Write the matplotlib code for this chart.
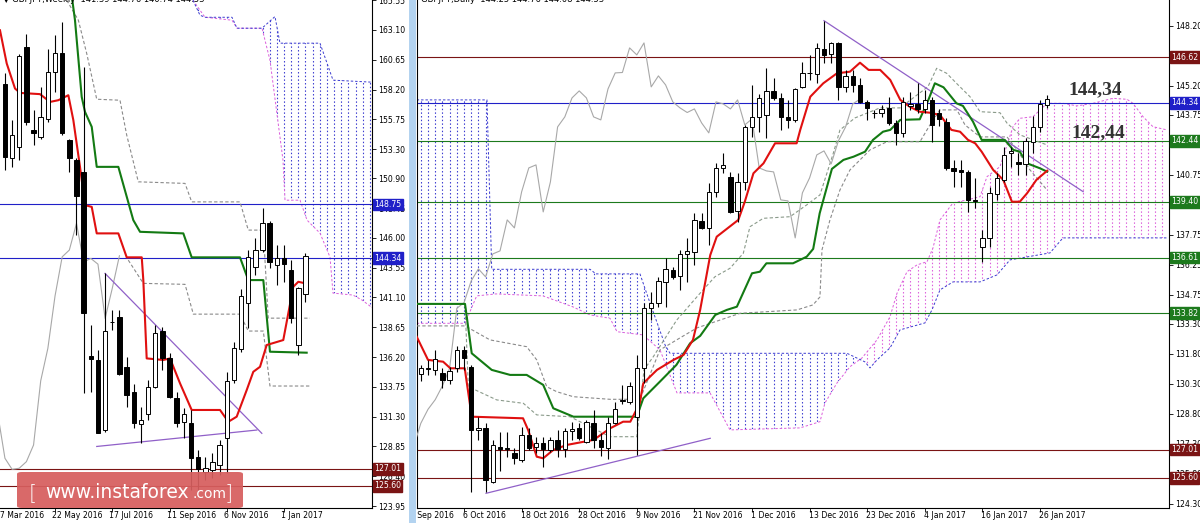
import numpy as np
import matplotlib
matplotlib.use("Agg")
import matplotlib.pyplot as plt
import matplotlib.transforms as mtransforms
from matplotlib.patches import Polygon, Rectangle, FancyBboxPatch

plt.rcParams['font.family'] = ['DejaVu Sans', 'Noto Sans']

# ---------------- weekly panel (bar 0 = week of 22 May 2016) ----------------
w_first = -7
w_open = [158.69, 152.53, 153.48, 161.70, 154.86, 154.26, 155.74, 159.65, 161.21, 154.04,
          152.39, 151.43, 136.28, 135.96, 130.20, 139.10, 139.46, 135.36, 133.35, 130.70,
          131.52, 133.76, 138.36, 136.10, 132.81, 130.89, 130.80, 128.01, 126.78, 126.92,
          127.33, 129.52, 134.31, 136.83, 140.62, 143.62, 145.00, 147.19, 143.76, 144.31,
          143.35, 137.19, 141.39]
w_high = [159.52, 155.68, 161.16, 162.80, 156.50, 158.42, 161.57, 162.66, 163.76, 154.17,
          152.53, 160.06, 138.83, 136.78, 143.08, 140.06, 140.06, 136.23, 133.98, 132.12,
          134.31, 138.83, 138.69, 136.51, 133.35, 131.99, 131.85, 128.56, 128.01, 128.29,
          129.38, 134.99, 137.46, 141.77, 145.00, 145.96, 148.42, 147.38, 145.41, 145.41,
          144.17, 141.98, 144.76]
w_low = [151.57, 151.84, 152.39, 155.27, 153.62, 154.17, 155.54, 158.00, 154.45, 151.43,
         146.23, 133.22, 133.35, 129.93, 130.06, 138.42, 134.72, 132.12, 130.34, 129.16,
         131.02, 133.63, 135.13, 132.85, 130.47, 129.52, 125.27, 125.27, 126.09, 126.23,
         126.50, 126.64, 134.09, 136.64, 138.56, 142.94, 144.86, 143.52, 142.12, 142.39,
         138.97, 136.37, 140.74]
w_close = [152.66, 154.45, 160.94, 155.54, 154.59, 155.90, 159.65, 161.21, 154.59, 152.53,
           149.43, 139.79, 136.01, 129.98, 138.36, 139.05, 134.81, 133.08, 130.75, 131.02,
           133.76, 138.15, 136.10, 132.89, 130.75, 131.52, 127.88, 126.97, 127.06, 127.60,
           128.97, 134.25, 136.92, 141.22, 144.44, 145.00, 147.19, 144.01, 144.31, 143.84,
           139.38, 141.85, 144.53]

w_tenkan_x = [-7.69, -6.75, -5.59, -4.89, -2.1, -0.7, 0.46, 1.86, 2.56, 3.49, 4.19, 5.13, 5.83,
              8.85, 10.02, 12.12, 12.34, 12.81, 15.13, 16.07, 17.47, 19.1, 23.06, 24.22, 25.39,
              26.79, 27.71, 28.65, 29.58, 31.9, 33.3, 34.0, 35.0]
w_tenkan_y = [163.07, 160.34, 158.28, 157.92, 157.82, 157.18, 157.32, 157.73, 155.68, 151.84,
              148.69, 148.55, 146.37, 146.37, 144.40, 144.40, 142.53, 136.09, 135.96, 136.09,
              134.04, 131.85, 131.85, 130.88, 131.30, 133.49, 134.99, 135.40, 137.19, 137.60,
              141.98, 142.39, 142.26]
w_kijun_x = [2.2, 2.79, 3.73, 4.19, 5.13, 5.83, 8.85, 10.94, 11.88, 17.93, 19.1, 25.85, 27.01,
             29.11, 30.04, 35.17]
w_kijun_y = [166.5, 163.90, 157.59, 156.36, 155.13, 151.84, 151.84, 147.46, 146.50, 146.37,
             144.40, 144.40, 142.53, 142.53, 136.64, 136.56]
w_span_a_x = [19.28, 20.96, 24.73, 25.43, 28.93, 30.04, 31.86, 32.14, 34.24, 35.22, 37.03,
              38.43, 38.85, 41.64, 42.9, 44.4]
w_span_a_y = [165.54, 164.14, 163.9, 163.24, 163.24, 160.61, 152.39, 149.10, 149.10, 147.46,
              146.39, 144.42, 141.46, 141.30, 140.89, 140.23]
w_span_b_x = [19.28, 20.26, 20.96, 24.73, 25.43, 28.93, 30.74, 31.44, 37.03, 38.85, 44.4]
w_span_b_y = [165.54, 164.31, 164.14, 164.14, 163.24, 163.24, 164.2, 162.01, 162.01, 158.97,
              158.80]
w_dash1_x = [1.64, 3.26, 4.43, 5.83, 9.08, 10.02, 11.64, 18.17, 19.1, 25.85, 27.01, 29.11,
             29.8, 35.63]
w_dash1_y = [165.54, 163.90, 161.16, 157.40, 157.32, 154.45, 150.61, 150.48, 148.96, 148.96,
             146.64, 146.64, 139.40, 139.40]
w_dash2_x = [10.24, 12.34, 18.17, 19.33, 25.85, 27.01, 29.11, 30.04, 35.63]
w_dash2_y = [144.17, 142.26, 142.18, 139.73, 139.73, 138.34, 138.34, 133.82, 133.82]
w_trend_x = [[6.99, 28.9], [5.83, 28.2]]
w_trend_y = [[143.08, 129.93], [128.85, 130.20]]
w_levels = [148.75, 144.34, 127.01, 125.60]
w_level_colors = ['#2020c8', '#2020c8', '#7a1414', '#7a1414']
w_yticks = [165.55, 163.10, 160.65, 158.20, 155.75, 153.30, 150.90, 148.45, 146.00, 143.55,
            141.10, 138.65, 136.20, 133.75, 131.30, 128.85, 126.40, 123.95]
w_date_pos = [-8, 0, 8, 16, 24, 32]
w_date_lbl = ['27 Mar 2016', '22 May 2016', '17 Jul 2016', '11 Sep 2016', '6 Nov 2016',
              '1 Jan 2017']

# ---------------- daily panel (bar 0 = 6 Oct 2016) ----------------
d_first = -6
d_open = [130.77, 131.05, 130.99, 130.82, 130.49, 131.07, 131.99, 131.15, 128.00, 128.07,
          125.40, 127.15, 127.07, 126.85, 126.49, 127.74, 127.12, 127.35, 126.99, 127.49,
          127.02, 127.92, 128.07, 127.40, 128.32, 127.49, 127.07, 128.32, 129.45, 129.40,
          128.65, 131.07, 134.07, 134.34, 135.39, 135.99, 135.69, 136.79, 136.89, 138.44,
          138.09, 139.89, 141.09, 140.64, 138.94, 140.39, 143.14, 143.64, 143.74, 144.94,
          144.59, 143.64, 143.49, 145.14, 145.84, 145.79, 147.04, 146.79, 147.34, 145.14,
          145.69, 145.24, 144.39, 143.84, 143.84, 144.09, 143.34, 142.84, 144.19, 144.29,
          144.04, 144.49, 143.84, 143.39, 141.09, 140.99, 140.89, 139.49, 137.14, 137.59,
          139.79, 140.49, 141.84, 141.39, 141.29, 142.39, 143.14, 144.25]
d_high = [131.24, 131.49, 131.99, 131.07, 131.15, 132.19, 132.19, 131.24, 128.65, 128.35,
          127.49, 127.90, 127.90, 127.07, 128.15, 128.07, 127.65, 127.65, 127.65, 127.99,
          128.07, 128.40, 128.32, 128.49, 128.99, 127.82, 128.65, 129.40, 130.24, 130.40,
          131.74, 134.32, 134.90, 135.65, 136.59, 136.14, 136.99, 137.59, 138.84, 138.84,
          140.34, 141.34, 141.84, 140.89, 140.84, 143.24, 145.24, 144.79, 146.09, 145.59,
          144.84, 144.49, 145.09, 146.39, 146.74, 147.34, 148.44, 147.40, 147.40, 145.99,
          145.99, 145.59, 144.49, 143.99, 144.24, 144.64, 143.49, 144.64, 144.89, 145.34,
          144.99, 144.64, 144.04, 143.59, 141.49, 141.49, 140.99, 140.59, 137.99, 140.14,
          140.84, 142.14, 142.14, 141.84, 142.59, 143.69, 144.49, 144.76]
d_low = [130.45, 130.74, 130.74, 130.07, 130.29, 130.90, 130.99, 124.90, 127.49, 124.90,
         125.32, 125.95, 126.65, 126.29, 126.40, 126.99, 126.82, 126.15, 126.90, 126.65,
         126.65, 127.49, 127.49, 127.35, 127.07, 126.69, 126.52, 128.29, 129.29, 129.29,
         126.73, 130.32, 133.49, 134.15, 134.13, 135.54, 134.99, 135.39, 136.24, 138.04,
         137.24, 139.64, 140.84, 138.84, 138.39, 139.99, 142.64, 142.89, 142.59, 144.49,
         142.99, 143.09, 143.39, 145.09, 145.49, 145.34, 146.34, 146.34, 144.49, 144.89,
         144.89, 144.34, 143.49, 143.59, 143.64, 143.24, 142.24, 142.64, 143.99, 143.84,
         143.84, 142.39, 143.19, 140.99, 140.14, 140.14, 138.89, 139.09, 136.39, 137.14,
         139.49, 140.39, 141.14, 140.74, 140.74, 141.84, 142.89, 144.08]
d_close = [131.07, 131.08, 131.52, 130.49, 130.95, 131.99, 131.57, 127.99, 128.07, 125.49,
           127.24, 127.02, 127.06, 126.57, 127.74, 127.07, 127.35, 127.02, 127.49, 127.02,
           127.94, 128.02, 127.57, 128.40, 127.49, 127.15, 128.32, 129.02, 129.50, 130.19,
           131.07, 134.07, 134.35, 135.44, 136.04, 135.64, 136.79, 136.94, 138.49, 138.09,
           139.89, 141.09, 141.24, 138.89, 140.39, 143.14, 143.64, 144.59, 144.94, 144.59,
           143.64, 143.49, 145.04, 145.84, 145.86, 147.09, 146.74, 147.34, 145.14, 145.69,
           145.24, 144.39, 144.09, 143.86, 144.04, 143.34, 142.84, 144.39, 144.29, 144.04,
           144.49, 143.24, 143.54, 141.09, 140.94, 140.89, 139.49, 139.44, 137.59, 139.84,
           140.59, 141.74, 141.94, 141.29, 142.44, 143.14, 144.29, 144.53]

d_tenkan_x = [-6.57, -5, -2.9, -1.9, 0.1, 1.07, 8.2, 8.9, 10.1, 11, 12.4, 14.3, 18, 20.3, 22.1,
              23.1, 24.4, 24.9, 26.8, 29.1, 30.5, 31.8, 32.8, 34.2, 35.1, 38.1, 39, 40.2, 41.6,
              43.2, 46.2, 46.7, 48.1, 49.9, 51.8, 53.6, 55, 56.2, 57.8, 59.2, 60.6, 61.9, 63.3,
              64.7, 66.1, 67.7, 68.9, 70, 71, 71.9, 73.5, 74.9, 76.1, 77.2, 78.2, 79.5, 81]
d_tenkan_y = [132.65, 131.49, 131.40, 131.07, 131.07, 128.65, 128.57, 127.99, 126.65, 126.57,
              126.99, 127.24, 127.49, 128.07, 128.40, 128.40, 129.32, 130.32, 130.99, 131.49,
              131.74, 132.49, 133.99, 136.73, 137.65, 138.49, 139.40, 140.82, 141.32, 142.32,
              142.32, 142.99, 144.65, 145.32, 145.82, 145.90, 146.35, 145.99, 145.99, 145.49,
              144.49, 144.15, 143.90, 143.85, 143.74, 142.99, 142.90, 142.49, 142.32, 141.90,
              140.99, 140.49, 139.40, 139.40, 139.82, 140.49, 140.95]
d_kijun_x = [-6.57, 0.14, 1.07, 3.85, 6.4, 8.7, 11, 12.4, 15.2, 24, 24.9, 27.2, 29.5, 31.4,
             32.8, 34.9, 36.5, 37.9, 40, 41.1, 42, 45.7, 47.6, 48.5, 49.4, 51.1, 52.7, 54.1,
             55.7, 56.8, 58.2, 59.2, 60.6, 63.3, 64.5, 65.4, 66.6, 68.4, 69.3, 70.7, 71.9, 75.1,
             76.3, 77.2, 78.2, 80, 81]
d_kijun_y = [134.29, 134.29, 131.82, 130.99, 130.74, 130.74, 130.24, 129.07, 128.65, 128.65,
             129.57, 130.40, 131.24, 132.32, 132.69, 133.74, 133.99, 134.15, 135.82, 135.90,
             136.32, 136.32, 136.65, 137.04, 138.82, 141.04, 141.49, 141.65, 141.90, 142.49,
             142.90, 142.99, 143.49, 143.52, 144.49, 145.32, 145.12, 144.32, 144.19, 143.40,
             142.49, 142.49, 141.99, 141.90, 141.32, 141.07, 140.90]
d_span_a_x = [-6.57, 0.14, 1.76, 4.44, 10.97, 15.14, 17.5, 20.28, 21.25, 24.86, 27.22, 29.58,
              34.17, 36.94, 46.67, 49.44, 50.14, 51.81, 53.61, 55.28, 57.36, 59.17, 60.14, 61.53,
              62.92, 64.31, 65.14, 66.11, 67.92, 69.86, 71.67, 72.64, 74.44, 76.25, 77.22, 79.03,
              80.97, 83.19, 85.14, 87.36, 90.14, 92.08, 92.92, 94.31, 95.69, 97.64]
d_span_a_y = [133.32, 133.32, 134.69, 134.79, 134.69, 134.14, 133.74, 133.57, 132.90, 132.74,
              131.99, 129.84, 129.84, 127.99, 128.09, 128.40, 129.34, 130.34, 131.15, 131.59,
              132.49, 133.65, 134.82, 135.90, 136.24, 136.40, 137.09, 138.49, 139.34, 139.49,
              139.65, 140.65, 141.15, 143.15, 143.57, 143.65, 144.32, 144.32, 144.19, 144.32,
              144.57, 144.52, 144.32, 143.65, 143.15, 142.99]
d_span_b_x = [-6.57, 3.19, 3.85, 17.5, 18.33, 24.44, 25.83, 27.92, 28.61, 53.19, 55.69, 56.39,
              57.36, 59.17, 60.56, 64.03, 65.0, 66.11, 67.92, 71.67, 74.03, 75.83, 81.39, 83.19,
              97.64]
d_span_b_y = [144.49, 144.49, 136.02, 136.02, 135.79, 135.79, 134.34, 132.24, 131.82, 131.82,
              131.39, 131.09, 131.49, 132.09, 132.99, 133.34, 133.99, 134.99, 135.39, 135.39,
              135.74, 136.49, 136.84, 137.59, 137.59]
# two dashed gray guide lines of the daily window
d_dash1_x = [-6.57, 0.14, 0.6, 4.54, 8.24, 10.1, 14.72, 20.28, 24.0, 25.0, 26.29, 29.54, 32.78,
             34.86, 36.94, 38.79, 39.72, 41.57, 45.28, 47.6, 49.44, 51.29, 52.22, 54.31, 57.78,
             60.56, 64.44, 65.65, 67.04, 68.65, 70.28, 71.67, 74.44, 75.42, 77.22, 80.97]
d_dash1_y = [134.29, 134.29, 130.15, 129.49, 129.32, 128.74, 128.65, 127.65, 127.65, 131.0,
             131.65, 133.48, 134.82, 135.65, 136.07, 136.82, 138.15, 138.57, 138.65, 139.24,
             139.74, 141.82, 142.99, 143.59, 144.09, 144.09, 145.15, 146.07, 145.82, 145.23,
             144.65, 143.90, 143.85, 143.33, 142.74, 142.24]
d_dash2_x = [-6.57, 0.14, 3.61, 8.71, 10.1, 11.49, 12.88, 15.18, 20.28, 24.44, 27.22, 30.0,
             32.36, 38.33, 46.25, 48.47, 49.44, 49.72, 50.83, 52.22, 53.61, 56.39, 58.75, 63.33,
             64.72, 66.11, 68.47, 69.58, 71.67, 75.42, 76.81, 78.61, 80.97]
d_dash2_y = [133.19, 133.19, 132.49, 132.15, 131.49, 130.15, 129.90, 129.65, 129.52, 129.52,
             131.99, 132.59, 133.09, 133.82, 133.99, 134.24, 134.64, 136.99, 138.49, 139.99,
             140.99, 141.99, 142.40, 142.40, 143.24, 143.99, 143.99, 143.24, 142.64, 142.64,
             141.99, 140.99, 139.99]
d_trend_x = [[50, 86], [3.06, 34.2]]
d_trend_y = [[148.45, 139.90], [124.82, 127.57]]
d_twist = 55.3
d_levels = [146.62, 144.34, 142.44, 139.40, 136.61, 133.82, 127.01, 125.60]
d_level_colors = ['#7a1414', '#2020c8', '#1d7a1d', '#1d7a1d', '#1d7a1d', '#1d7a1d',
                  '#7a1414', '#7a1414']
d_yticks = [148.20, 146.70, 145.20, 143.75, 142.25, 140.75, 139.25, 137.75, 136.25, 134.75,
            133.30, 131.80, 130.30, 128.80, 127.30, 125.80, 124.30]
d_date_pos = [-8, 0, 8, 16, 24, 32, 40, 48, 56, 64, 72, 80]
d_date_lbl = ['26 Sep 2016', '6 Oct 2016', '18 Oct 2016', '28 Oct 2016', '9 Nov 2016',
              '21 Nov 2016', '1 Dec 2016', '13 Dec 2016', '23 Dec 2016', '4 Jan 2017',
              '16 Jan 2017', '26 Jan 2017']

BLUE_CLOUD = '#3b3bd0'
PINK_CLOUD = '#dc5fdc'
FS = 5.6

fig = plt.figure(figsize=(12, 5.23), dpi=100)
fig.patch.set_facecolor('white')
axL = fig.add_axes([0, 15 / 523, 372 / 1200, 508 / 523])
axR = fig.add_axes([417 / 1200, 15 / 523, 752 / 1200, 508 / 523])


def candles(ax, first, o, h, l, c, width):
    x = np.arange(first, first + len(o))
    o, h, l, c = map(np.asarray, (o, h, l, c))
    ax.vlines(x, l, h, color='black', lw=0.8, zorder=6)
    up = c >= o
    ax.bar(x, np.abs(c - o), bottom=np.minimum(o, c), width=width,
           color=np.where(up, 'white', 'black'), edgecolor='black', linewidth=0.7, zorder=7)


def cloud(ax, ax_x, ay, bx, by, twist, lo, hi):
    verts = np.column_stack([np.r_[ax_x, bx[::-1]], np.r_[ay, by[::-1]]])
    poly = Polygon(verts, closed=True, facecolor='none', edgecolor='none')
    ax.add_patch(poly)
    xs = np.arange(int(np.floor(min(ax_x))), int(np.ceil(max(ax_x))) + 1)
    cols = [BLUE_CLOUD if x < twist else PINK_CLOUD for x in xs]
    lc = ax.vlines(xs, lo, hi, colors=cols, linestyles=[(0, (1.3, 2.0))], lw=0.8, zorder=1)
    lc.set_clip_path(poly)
    ax.plot(ax_x, ay, color=PINK_CLOUD, lw=0.7, ls=(0, (2.5, 2)), zorder=1)
    ax.plot(bx, by, color=BLUE_CLOUD, lw=0.7, ls=(0, (2.5, 2)), zorder=1)


def tag(ax, y, color):
    tr = mtransforms.blended_transform_factory(ax.transAxes, ax.transData)
    tr = mtransforms.offset_copy(tr, fig=fig, x=2, y=0, units='dots')
    ax.text(1.0, y, '%.2f' % y, transform=tr, ha='left', va='center', fontsize=FS,
            color='white', clip_on=False, zorder=20,
            bbox=dict(boxstyle='square,pad=0.18', fc=color, ec=color))


def frame(ax, xlim, ylim, yticks, date_pos, date_lbl, clip_x0, clip_x1, show_left, dx):
    ax.set_xlim(*xlim)
    ax.set_ylim(*ylim)
    ax.set_facecolor('white')
    ax.spines['top'].set_visible(False)
    ax.spines['left'].set_visible(show_left)
    for s in ['right', 'bottom', 'left']:
        ax.spines[s].set_linewidth(0.8)
    ax.yaxis.tick_right()
    ax.set_yticks(yticks)
    ax.set_yticklabels(['%.2f' % v for v in yticks])
    ax.tick_params(axis='y', direction='out', length=3, width=0.6, labelsize=FS, pad=1.5)
    ax.set_xticks([p for p in date_pos if xlim[0] <= p <= xlim[1]])
    ax.set_xticklabels([])
    ax.tick_params(axis='x', direction='out', length=3, width=0.6)
    clip = Rectangle((clip_x0 / 1200, 0), (clip_x1 - clip_x0) / 1200, 15 / 523,
                     transform=fig.transFigure)
    tr = mtransforms.blended_transform_factory(ax.transData, fig.transFigure)
    tr = mtransforms.offset_copy(tr, fig=fig, x=dx, y=0, units='dots')
    for p, lbl in zip(date_pos, date_lbl):
        t = ax.text(p, 7 / 523, lbl, transform=tr, ha='left', va='center',
                    fontsize=FS, clip_on=True)
        t.set_clip_path(clip)


# ---------------- left: weekly ----------------
frame(axL, (-7.69, 44.3), (123.79, 165.56), w_yticks, w_date_pos, w_date_lbl, 0, 372, False, -3)
cloud(axL, np.array(w_span_a_x), np.array(w_span_a_y), np.array(w_span_b_x),
      np.array(w_span_b_y), 99, 120, 170)
for lv, col in zip(w_levels, w_level_colors):
    axL.axhline(lv, color=col, lw=0.8, zorder=2)
    tag(axL, lv, col)
axL.plot(w_dash1_x, w_dash1_y, color='#8a8a8a', lw=0.8, ls=(0, (3, 2)), zorder=3)
axL.plot(w_dash2_x, w_dash2_y, color='#8a8a8a', lw=0.8, ls=(0, (3, 2)), zorder=3)
w_idx = np.arange(w_first, w_first + len(w_close))
axL.plot(w_idx - 26, w_close, color='#a8a8a8', lw=0.8, zorder=3)
for tx, ty in zip(w_trend_x, w_trend_y):
    axL.plot(tx, ty, color='#9060c8', lw=0.9, zorder=4)
axL.plot(w_kijun_x, w_kijun_y, color='#137a13', lw=1.5, zorder=5)
axL.plot(w_tenkan_x, w_tenkan_y, color='#e01010', lw=1.5, zorder=5)
candles(axL, w_first, w_open, w_high, w_low, w_close, 0.62)

# ---------------- right: daily ----------------
frame(axR, (-6.53, 97.92), (124.085, 149.485), d_yticks, d_date_pos, d_date_lbl, 417, 1169,
      True, -1)
cloud(axR, np.array(d_span_a_x), np.array(d_span_a_y), np.array(d_span_b_x),
      np.array(d_span_b_y), d_twist, 120, 150)
for lv, col in zip(d_levels, d_level_colors):
    axR.axhline(lv, color=col, lw=0.8, zorder=2)
    tag(axR, lv, col)
axR.plot(d_dash1_x, d_dash1_y, color='#8a9a8a', lw=0.8, ls=(0, (3, 2)), zorder=3)
axR.plot(d_dash2_x, d_dash2_y, color='#8a8a8a', lw=0.8, ls=(0, (3, 2)), zorder=3)
d_idx = np.arange(d_first, d_first + len(d_close))
axR.plot(d_idx - 26, d_close, color='#a8a8a8', lw=0.8, zorder=3)
for tx, ty in zip(d_trend_x, d_trend_y):
    axR.plot(tx, ty, color='#9060c8', lw=0.9, zorder=4)
axR.plot(d_kijun_x, d_kijun_y, color='#137a13', lw=1.5, zorder=5)
axR.plot(d_tenkan_x, d_tenkan_y, color='#e01010', lw=1.5, zorder=5)
candles(axR, d_first, d_open, d_high, d_low, d_close, 0.62)

axR.text(83.9, 144.79, '144,34', fontfamily='Liberation Serif', fontweight='bold',
         fontsize=14, color='#333333', va='baseline', zorder=15)
axR.text(84.4, 142.64, '142,44', fontfamily='Liberation Serif', fontweight='bold',
         fontsize=14, color='#333333', va='baseline', zorder=15)

# headers (cut at the top edge like the terminal window)
fig.text(3 / 1200, 1.0, '\u25bc GBPJPY,Weekly  141.39 144.76 140.74 144.53', fontsize=6,
         va='center', ha='left')
fig.text(421 / 1200, 1.0, 'GBPJPY,Daily  144.25 144.76 144.08 144.53', fontsize=6,
         va='center', ha='left')

# separator between the two chart windows
fig.patches.append(Rectangle((409 / 1200, 0), 7 / 1200, 1, transform=fig.transFigure,
                             facecolor='#b3d3f0', edgecolor='none', zorder=30))

# watermark
fig.patches.append(FancyBboxPatch((17 / 1200, 15 / 523), 226 / 1200, 36 / 523,
                                  boxstyle='round,pad=0,rounding_size=0.004',
                                  transform=fig.transFigure, facecolor='#d65e5e',
                                  edgecolor='none', alpha=0.93, zorder=31))
fig.text(29 / 1200, 24 / 523, '[', fontsize=15, color='white', zorder=32, fontweight='light')
fig.text(45 / 1200, 25 / 523, 'www.instaforex', fontsize=13.5, color='white', zorder=32)
fig.text(192 / 1200, 25 / 523, '.com', fontsize=10, color='white', zorder=32)
fig.text(225 / 1200, 24 / 523, ']', fontsize=15, color='white', zorder=32, fontweight='light')

fig.savefig('out.png', dpi=100, facecolor='white')
